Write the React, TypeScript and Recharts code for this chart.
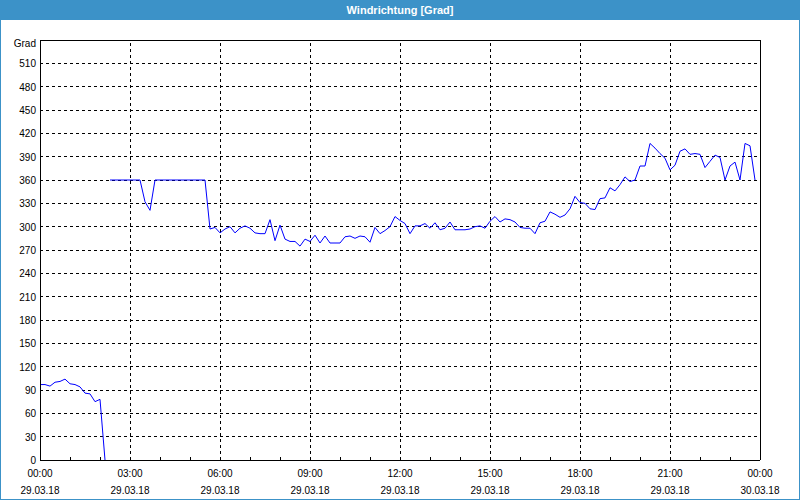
import { LineChart, Line, XAxis, YAxis, CartesianGrid, ReferenceLine } from 'recharts';

// wind direction in degrees, one sample every 10 minutes starting 29.03.18 00:00
const directions = [
    97, 97, 95, 100, 101, 104, 98, 97, 94, 86, 85, 75, 78, 0,
    360, 360, 360, 360, 360, 360, 360, 332, 321, 360, 360, 360, 360, 360, 360, 360, 360, 360, 360, 360,
    297, 299, 292, 297, 300, 292, 298, 301, 298, 292, 291, 291, 309, 282, 302, 284, 281, 281, 275, 284,
    281, 289, 279, 288, 279, 279, 279, 287, 288, 285, 288, 287, 280, 299, 291, 295, 300, 313, 308, 304,
    291, 301, 301, 304, 298, 305, 296, 298, 306, 296, 296, 296, 297, 300, 301, 298, 307, 313, 306, 310,
    309, 306, 299, 298, 298, 291, 305, 307, 319, 316, 312, 315, 323, 339, 331, 330, 323, 322, 336, 337,
    350, 346, 354, 364, 358, 360, 378, 378, 407, 401, 394, 388, 373, 379, 397, 400, 393, 394, 393, 376,
    384, 392, 389, 360, 378, 383, 360, 407, 404, 360,
];
// first sample after the jump from 0 to 360 (line is broken there)
const wrapIndex = 14;
const sampleMinutes = 10;

const gradTicks = [0, 30, 60, 90, 120, 150, 180, 210, 240, 270, 300, 330, 360, 390, 420, 450, 480, 510, 540];
const compassTicks = [0, 45, 90, 135, 180, 225, 270, 315, 360, 405, 450, 495, 540];
const compassLabels = ['N', 'NE', 'E', 'SE', 'S', 'SW', 'W', 'NW', 'N', 'NE', 'E', 'SE', 'S'];
const hourTicks = [0, 60, 120, 180, 240, 300, 360, 420, 480, 540, 600, 660, 720, 780, 840, 900, 960, 1020, 1080, 1140, 1200, 1260, 1320, 1380, 1440];
const gridMinutes = [180, 360, 540, 720, 900, 1080, 1260];
const timeLabels = ['00:00', '03:00', '06:00', '09:00', '12:00', '15:00', '18:00', '21:00', '00:00'];
const dateLabels = ['29.03.18', '29.03.18', '29.03.18', '29.03.18', '29.03.18', '29.03.18', '29.03.18', '29.03.18', '30.03.18'];

const data = directions.map((v, i) => ({
    t: i * sampleMinutes,
    before: i < wrapIndex ? v : null,
    after: i >= wrapIndex ? v : null,
}));

const TimeTick = ({ x, y, payload }: any) => {
    const labelled = payload.value % 180 === 0;
    const idx = payload.value / 180;
    return (
        <g>
            <line x1={x} x2={x} y1={y} y2={y - 3} stroke="#000" />
            {labelled && (
                <text x={x} y={y} textAnchor="middle" fontSize={10} fill="#000">
                    <tspan x={x} dy={17}>{timeLabels[idx]}</tspan>
                    <tspan x={x} dy={17}>{dateLabels[idx]}</tspan>
                </text>
            )}
        </g>
    );
};

const GradTick = ({ x, y, payload }: any) => (
    <text x={x} y={y} dy={payload.value === 540 ? 7 : 4} textAnchor="end" fontSize={10} fill="#000">
        {payload.value === 540 ? 'Grad' : payload.value}
    </text>
);

const App = () => {
    return (
        <div style={{ position: 'relative', width: 800, height: 500, background: '#fff', fontFamily: '"Liberation Sans", Arial, sans-serif' }}>
            <style>{`body { margin: 0; } svg line { shape-rendering: crispEdges; }`}</style>
            <LineChart width={800} height={500} data={data} margin={{ top: 40, right: 0, bottom: 0, left: 0 }}>
                <CartesianGrid yAxisId="grad" vertical={false} stroke="#000" strokeDasharray="3 3" />
                <XAxis
                    dataKey="t"
                    type="number"
                    domain={[0, 1440]}
                    ticks={hourTicks}
                    interval={0}
                    height={40}
                    tickSize={0}
                    tickMargin={0}
                    tick={<TimeTick />}
                    axisLine={{ stroke: '#000' }}
                />
                <YAxis
                    yAxisId="grad"
                    domain={[0, 540]}
                    ticks={gradTicks}
                    interval={0}
                    width={40}
                    tickSize={2}
                    tickMargin={2}
                    tickLine={false}
                    tick={<GradTick />}
                    axisLine={{ stroke: '#000' }}
                />
                <YAxis
                    yAxisId="dir"
                    orientation="right"
                    domain={[0, 540]}
                    ticks={compassTicks}
                    interval={0}
                    width={40}
                    tickSize={4}
                    tickMargin={1}
                    tickLine={{ stroke: '#000' }}
                    tick={{ fontSize: 10, fill: '#000' }}
                    tickFormatter={(v: number) => compassLabels[compassTicks.indexOf(v)]}
                    axisLine={{ stroke: '#000' }}
                />
                {gridMinutes.map((m) => (
                    <ReferenceLine key={m} yAxisId="grad" x={m} stroke="#000" strokeDasharray="3 3" />
                ))}
                <ReferenceLine yAxisId="grad" y={540} stroke="#000" />
                <Line yAxisId="grad" dataKey="before" stroke="#0000ff" strokeWidth={1} dot={false} isAnimationActive={false} />
                <Line yAxisId="grad" dataKey="after" stroke="#0000ff" strokeWidth={1} dot={false} isAnimationActive={false} />
            </LineChart>
            <div
                style={{
                    position: 'absolute', left: 0, top: 0, width: 800, height: 20,
                    background: '#3c92c8', color: '#fff', fontSize: 11, fontWeight: 'bold',
                    lineHeight: '20px', textAlign: 'center',
                }}
            >
                Windrichtung [Grad]
            </div>
            <div style={{ position: 'absolute', inset: 0, border: '1px solid #3c92c8', pointerEvents: 'none' }} />
        </div>
    );
};

export default App;
